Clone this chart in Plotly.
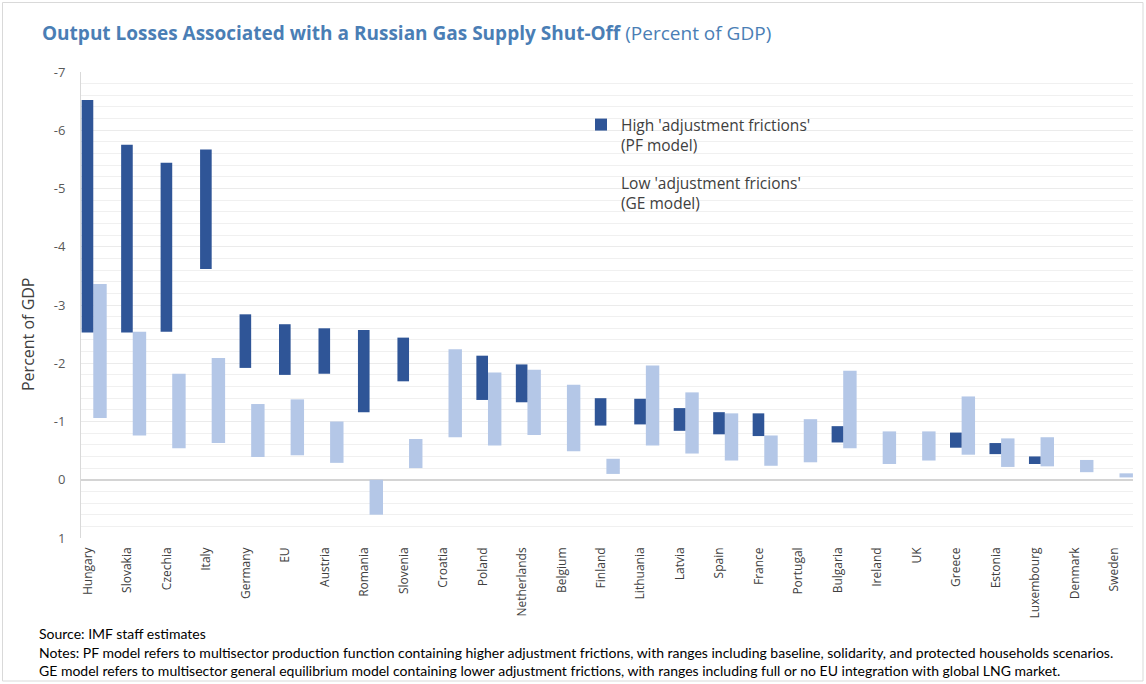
import plotly.graph_objects as go
import numpy as np

# ---------------- data ----------------
countries = ["Hungary", "Slovakia", "Czechia", "Italy", "Germany", "EU", "Austria",
             "Romania", "Slovenia", "Croatia", "Poland", "Netherlands", "Belgium",
             "Finland", "Lithuania", "Latvia", "Spain", "France", "Portugal",
             "Bulgaria", "Ireland", "UK", "Greece", "Estonia", "Luxembourg",
             "Denmark", "Sweden"]

# High adjustment frictions (PF model): range of output loss, % of GDP
pf_min = [-6.52, -5.75, -5.44, -5.67, -2.84, -2.67, -2.60, -2.57, -2.44, None,
          -2.13, -1.98, None, -1.40, -1.39, -1.23, -1.16, -1.14, None,
          -0.92, None, None, -0.81, -0.63, -0.40, None, None]
pf_max = [-2.53, -2.53, -2.54, -3.62, -1.92, -1.80, -1.82, -1.16, -1.69, None,
          -1.37, -1.33, None, -0.93, -0.95, -0.84, -0.78, -0.75, None,
          -0.64, None, None, -0.55, -0.44, -0.27, None, None]

# Low adjustment frictions (GE model)
ge_min = [-3.36, -2.54, -1.82, -2.09, -1.30, -1.38, -1.00, 0.00, -0.70, -2.24,
          -1.84, -1.89, -1.63, -0.36, -1.96, -1.50, -1.14, -0.76, -1.04,
          -1.87, -0.83, -0.83, -1.43, -0.71, -0.73, -0.34, -0.11]
ge_max = [-1.06, -0.76, -0.54, -0.63, -0.39, -0.42, -0.29, 0.60, -0.20, -0.73,
          -0.59, -0.77, -0.49, -0.10, -0.59, -0.45, -0.33, -0.24, -0.30,
          -0.54, -0.27, -0.33, -0.43, -0.22, -0.23, -0.13, -0.04]

y_tick_vals = [-7, -6, -5, -4, -3, -2, -1, 0, 1]
y_tick_text = ["-7", "-6", "-5", "-4", "-3", "-2", "-1", "0", "1"]

title_main = "Output Losses Associated with a Russian Gas Supply Shut-Off"
title_sub = "(Percent of GDP)"
legend_high = "High 'adjustment frictions'<br>(PF model)"
legend_low = "Low 'adjustment fricions'<br>(GE model)"
y_title = "Percent of GDP"
notes = ["Source: IMF staff estimates",
         "Notes: PF model refers to multisector production function containing higher adjustment frictions, with ranges including baseline, solidarity, and protected households scenarios.",
         "GE model refers to multisector general equilibrium model containing lower adjustment frictions, with ranges including full or no EU integration with global LNG market."]

# ---------------- styling ----------------
DARK = "#2F5597"
LIGHT = "#B4C7E7"
TITLE_COLOR = "#4A7EB5"
FONT = "Open Sans, Noto Sans, sans-serif"
NOTE_FONT = "Lato, Open Sans, sans-serif"

W, H = 1146, 684
L, R, T, B = 81, 13, 72, 146
PW, PH = W - L - R, H - T - B


def px_x(p):
    return (p - L) / PW


def px_y(p):
    return (H - B - p) / PH


def span(lo, hi):
    lo = np.array([np.nan if v is None else v for v in lo], dtype=float)
    hi = np.array([np.nan if v is None else v for v in hi], dtype=float)
    return lo, hi - lo


pf_base, pf_len = span(pf_min, pf_max)
ge_base, ge_len = span(ge_min, ge_max)

fig = go.Figure()
fig.add_trace(go.Bar(x=countries, y=ge_len, base=ge_base, name=legend_low,
                     marker=dict(color=LIGHT, line=dict(width=0)),
                     offset=0.134, width=0.34, showlegend=False))
fig.add_trace(go.Bar(x=countries, y=pf_len, base=pf_base, name=legend_high,
                     marker=dict(color=DARK, line=dict(width=0)),
                     offset=-0.16, width=0.294, legendgroup="a", legendrank=1))
# legend-only entry for the GE model (no swatch shown in the original)
fig.add_trace(go.Bar(x=[None], y=[None], name=legend_low,
                     marker=dict(color="rgba(0,0,0,0)", line=dict(width=0)),
                     legendgroup="b", legendrank=2, hoverinfo="skip"))

annotations = [
    dict(text=f"<b>{title_main}</b> {title_sub}", xref="paper", yref="paper",
         x=px_x(40), y=px_y(33), xanchor="left", yanchor="middle", showarrow=False,
         font=dict(family=FONT, size=19, color=TITLE_COLOR)),
    dict(text=y_title, xref="paper", yref="paper", x=px_x(28), y=px_y(334),
         xanchor="center", yanchor="middle", textangle=-90, showarrow=False,
         font=dict(family=FONT, size=16, color="#404040")),
]
for i, (line, yy) in enumerate(zip(notes, [633, 652, 670])):
    annotations.append(dict(text=line, xref="paper", yref="paper", x=px_x(37), y=px_y(yy),
                            xanchor="left", yanchor="middle", showarrow=False,
                            font=dict(family=NOTE_FONT, size=14, color="#000000")))

fig.update_layout(
    width=W, height=H,
    margin=dict(l=L, r=R, t=T, b=B, pad=0),
    paper_bgcolor="white", plot_bgcolor="white",
    barmode="overlay",
    font=dict(family=FONT, color="#404040"),
    showlegend=True,
    legend=dict(x=px_x(581), y=px_y(108), xanchor="left", yanchor="top",
                bgcolor="rgba(0,0,0,0)", font=dict(family=FONT, size=15.5, color="#404040"),
                tracegroupgap=15, valign="top", itemwidth=30),
    annotations=annotations,
    shapes=[dict(type="rect", xref="paper", yref="paper",
                 x0=px_x(2.5), x1=px_x(1143), y0=px_y(681), y1=px_y(2.5),
                 line=dict(color="#D9D9D9", width=1), layer="below")],
)

fig.update_xaxes(
    type="category", range=[-0.177, len(countries) - 1 + 0.476],
    tickangle=-90, tickfont=dict(family=FONT, size=12, color="#404040"),
    showgrid=False, showline=False, zeroline=False, ticks="", ticklabelstandoff=6,
)
fig.update_yaxes(
    range=[1, -7], tickmode="array", tickvals=y_tick_vals, ticktext=y_tick_text,
    tickfont=dict(family=FONT, size=13, color="#595959"),
    showgrid=True, gridcolor="#EBEBEB", gridwidth=1,
    minor=dict(tickmode="linear", tick0=0, dtick=0.2, showgrid=True,
               gridcolor="#F0F0F0", gridwidth=1, ticks=""),
    zeroline=True, zerolinecolor="#D4D4D4", zerolinewidth=1.5,
    showline=True, linecolor="#D9D9D9", linewidth=1, ticks="", ticklabelstandoff=12,
)

fig.write_html("out.html", config={"displayModeBar": False},
               post_script="document.body.style.margin='0';document.body.style.overflow='hidden';")
